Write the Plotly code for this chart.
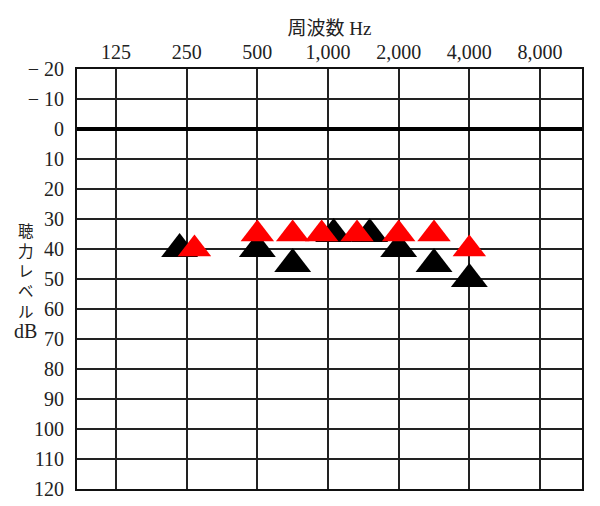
import plotly.graph_objects as go

# audiogram values (Hz, dB HL)
freq_black = [250, 500, 750, 1000, 1500, 2000, 3000, 4000]
db_black = [40, 40, 45, 35, 35, 40, 45, 50]

freq_red = [250, 500, 750, 1000, 1500, 2000, 3000, 4000]
db_red = [40, 35, 35, 35, 35, 35, 35, 40]

octave_freqs = [125, 250, 500, 1000, 2000, 4000, 8000]
octave_labels = ["125", "250", "500", "1,000", "2,000", "4,000", "8,000"]

db_ticks = list(range(-20, 130, 10))
db_labels = ["\u2212 20", "\u2212 10"] + [str(v) for v in db_ticks[2:]]

# side-by-side nudge where the two symbols would sit on top of each other
DODGE = 0.1
dodge_black = {250: -1, 1000: 0.8, 1500: 0.9}
dodge_red = {250: 1.1, 1000: -0.9, 1500: -0.9}


def audiogram_pos(f):
    """Octave index from 125 Hz; half-octave freqs sit midway like on the printed form."""
    for k, base in enumerate(octave_freqs):
        if f == base:
            return k
        if f == base * 1.5:
            return k + 0.5
    raise ValueError(f)


def positions(freqs, dodge):
    return [audiogram_pos(f) + DODGE * dodge.get(f, 0) for f in freqs]


NUM_FONT = "Liberation Serif, Noto Sans CJK JP"

# page body has an 8px margin, so the figure is a bit smaller than the window
W, H = 592, 498
M_L, M_R, M_T, M_B = 69, 18, 61, 17
plot_w = W - M_L - M_R
plot_h = H - M_T - M_B

fig = go.Figure()

fig.add_trace(go.Scatter(
    x=positions(freq_black, dodge_black),
    y=db_black,
    mode="markers",
    marker=dict(symbol="triangle-up", size=32, color="black", line=dict(width=0)),
    showlegend=False,
))

fig.add_trace(go.Scatter(
    x=positions(freq_red, dodge_red),
    y=db_red,
    mode="markers",
    marker=dict(symbol="triangle-up", size=29, color="#ff0000", line=dict(width=0)),
    showlegend=False,
))

# vertical axis caption, one glyph per line like the printed form
fig.add_annotation(
    text="聴<br>力<br>レ<br>ベ<br>ル<br><span style='font-size:20px'>dB</span>",
    xref="paper", yref="paper",
    x=(25 - 8 - M_L) / plot_w, y=(M_T + plot_h - (282 - 8)) / plot_h,
    xanchor="center", yanchor="middle",
    showarrow=False,
    borderpad=0,
    font=dict(family=NUM_FONT, size=15.5, color="#222"),
)

fig.update_xaxes(
    range=[-0.552, 6.594],
    side="top",
    tickmode="array",
    tickvals=list(range(len(octave_freqs))),
    ticktext=octave_labels,
    ticks="",
    ticklabelstandoff=0,
    tickfont=dict(family=NUM_FONT, size=20, color="#222"),
    showgrid=True,
    gridcolor="#222",
    gridwidth=1.7,
    zeroline=False,
    showline=True,
    mirror=True,
    linecolor="#111",
    linewidth=2,
    automargin=False,
    title=dict(text="周波数 Hz", font=dict(family=NUM_FONT, size=19, color="#222"), standoff=0),
)

fig.update_yaxes(
    range=[120, -20],
    tickmode="array",
    tickvals=db_ticks,
    ticktext=db_labels,
    ticks="",
    ticklabelstandoff=7,
    tickfont=dict(family=NUM_FONT, size=20, color="#222"),
    showgrid=True,
    gridcolor="#222",
    gridwidth=1.7,
    zeroline=True,
    zerolinecolor="#000",
    zerolinewidth=4,
    showline=True,
    mirror=True,
    linecolor="#111",
    linewidth=2,
    automargin=False,
)

fig.update_layout(
    width=W,
    height=H,
    autosize=False,
    margin=dict(l=M_L, r=M_R, t=M_T, b=M_B),
    paper_bgcolor="white",
    plot_bgcolor="white",
)

fig.write_html("out.html")
